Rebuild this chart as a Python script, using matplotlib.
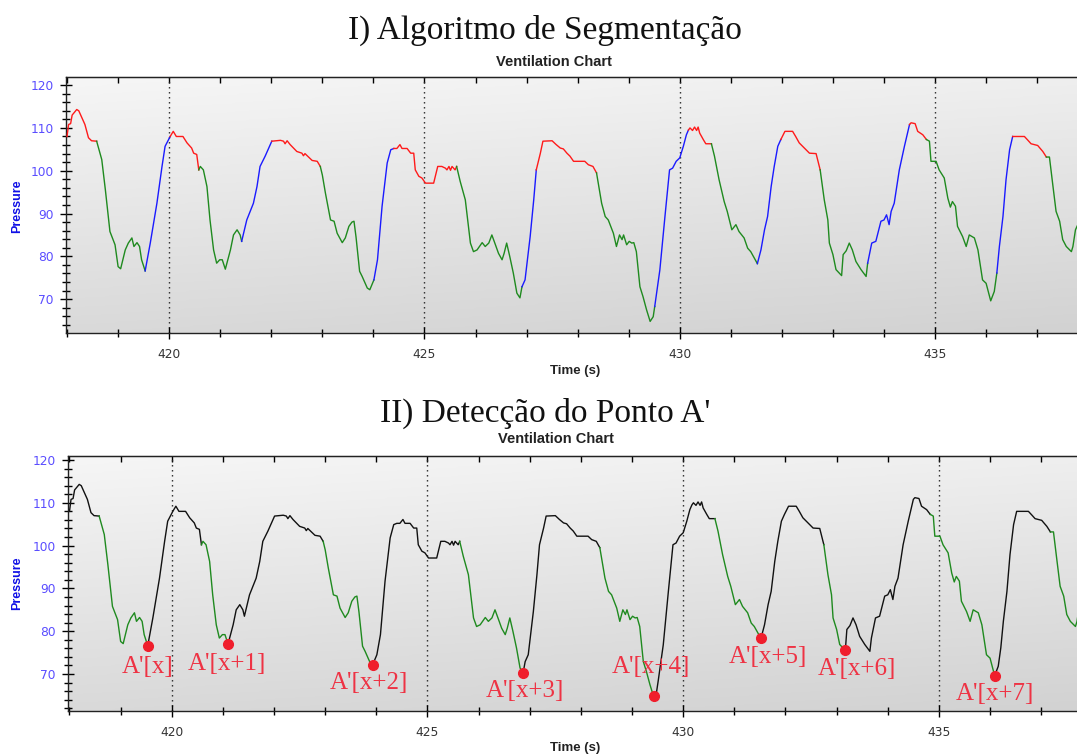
import matplotlib.pyplot as plt
import numpy as np
from matplotlib.colors import LinearSegmentedColormap
from matplotlib.ticker import MultipleLocator

# Pressure trace (time in s)
time = np.array([
    418.00, 418.03, 418.07, 418.10, 418.19, 418.23, 418.35, 418.42, 418.48, 418.58,
    418.68, 418.75, 418.84, 418.94, 419.00, 419.05, 419.14, 419.20, 419.27, 419.31,
    419.37, 419.42, 419.46, 419.53, 419.63, 419.76, 419.86, 419.92, 420.02, 420.08,
    420.14, 420.27, 420.35, 420.44, 420.48, 420.54, 420.58, 420.61, 420.67, 420.74,
    420.80, 420.87, 420.93, 420.99, 421.04, 421.10, 421.20, 421.26, 421.33, 421.39,
    421.42, 421.52, 421.65, 421.72, 421.78, 421.88, 422.01, 422.18, 422.24, 422.27,
    422.31, 422.37, 422.50, 422.60, 422.63, 422.66, 422.73, 422.80, 422.90, 422.96,
    423.00, 423.06, 423.16, 423.23, 423.29, 423.39, 423.45, 423.52, 423.58, 423.62,
    423.66, 423.73, 423.78, 423.88, 423.93, 424.01, 424.08, 424.17, 424.27, 424.34,
    424.40, 424.46, 424.52, 424.56, 424.66, 424.73, 424.79, 424.82, 424.89, 424.95,
    425.02, 425.18, 425.26, 425.34, 425.41, 425.44, 425.48, 425.51, 425.54, 425.60,
    425.63, 425.70, 425.80, 425.90, 425.96, 426.03, 426.13, 426.19, 426.26, 426.32,
    426.39, 426.45, 426.52, 426.56, 426.61, 426.67, 426.74, 426.81, 426.87, 426.91,
    426.97, 427.07, 427.14, 427.19, 427.27, 427.32, 427.50, 427.58, 427.66, 427.72,
    427.79, 427.85, 427.92, 428.14, 428.21, 428.30, 428.37, 428.47, 428.54, 428.60,
    428.70, 428.76, 428.82, 428.87, 428.90, 428.96, 429.01, 429.06, 429.10, 429.15,
    429.22, 429.28, 429.35, 429.42, 429.48, 429.51, 429.61, 429.71, 429.80, 429.86,
    429.93, 430.00, 430.07, 430.13, 430.17, 430.20, 430.25, 430.29, 430.33, 430.36,
    430.39, 430.46, 430.51, 430.62, 430.68, 430.77, 430.87, 430.93, 431.02, 431.10,
    431.16, 431.26, 431.33, 431.39, 431.46, 431.52, 431.59, 431.66, 431.72, 431.79,
    431.85, 431.92, 431.98, 432.06, 432.21, 432.27, 432.34, 432.44, 432.54, 432.67,
    432.75, 432.83, 432.90, 432.93, 433.00, 433.06, 433.17, 433.20, 433.26, 433.32,
    433.38, 433.45, 433.55, 433.65, 433.68, 433.76, 433.84, 433.94, 434.00, 434.05,
    434.10, 434.14, 434.20, 434.30, 434.40, 434.50, 434.53, 434.61, 434.66, 434.76,
    434.83, 434.89, 434.92, 435.02, 435.08, 435.18, 435.25, 435.30, 435.34, 435.40,
    435.44, 435.54, 435.61, 435.67, 435.77, 435.84, 435.93, 436.00, 436.09, 436.16,
    436.21, 436.26, 436.33, 436.39, 436.46, 436.52, 436.75, 436.82, 436.88, 437.01,
    437.11, 437.18, 437.24, 437.31, 437.37, 437.44, 437.50, 437.57, 437.67, 437.70,
    437.75, 437.80,
])
pressure = np.array([
    108.0, 110.8, 111.0, 113.0, 114.3, 114.0, 110.8, 107.7, 107.0, 106.9,
    102.6, 95.6, 85.8, 82.7, 77.6, 77.1, 81.5, 83.1, 84.3, 82.3,
    83.2, 82.3, 79.2, 76.6, 83.1, 92.4, 101.0, 105.7, 108.0, 109.2,
    108.0, 108.0, 106.5, 105.3, 104.1, 103.8, 100.2, 101.0, 100.2, 96.3,
    88.5, 81.5, 78.4, 79.2, 79.2, 77.0, 81.5, 85.0, 86.2, 85.0,
    83.5, 88.5, 92.4, 96.3, 101.0, 103.4, 106.9, 107.1, 106.9, 106.3,
    107.0, 106.1, 104.5, 104.1, 103.5, 104.0, 103.2, 102.4, 102.2, 101.0,
    99.0, 94.8, 88.5, 88.2, 85.4, 83.2, 84.3, 87.0, 88.0, 88.2,
    84.5, 76.5, 75.3, 72.6, 72.2, 74.5, 79.2, 91.7, 101.8, 104.9,
    105.2, 105.2, 106.1, 105.2, 105.2, 104.1, 104.1, 100.2, 98.7, 98.3,
    97.1, 97.1, 101.0, 101.0, 100.6, 100.2, 101.0, 100.1, 101.0, 100.2,
    101.0, 97.5, 93.2, 83.1, 81.1, 81.5, 83.2, 82.3, 83.1, 85.0,
    82.7, 80.7, 79.2, 80.7, 83.1, 80.0, 76.1, 71.4, 70.3, 72.9,
    74.5, 84.6, 93.2, 100.2, 104.1, 106.9, 107.0, 106.1, 105.3, 105.1,
    104.1, 103.4, 102.2, 102.2, 101.4, 101.0, 99.5, 92.4, 89.3, 88.5,
    85.4, 82.3, 85.0, 83.9, 85.0, 82.7, 83.5, 83.1, 83.2, 81.1,
    72.9, 70.6, 67.5, 64.8, 65.9, 68.3, 76.8, 89.3, 100.2, 100.6,
    102.2, 103.0, 105.7, 108.4, 109.5, 110.0, 109.4, 110.2, 109.4, 110.2,
    108.8, 107.3, 106.3, 106.3, 103.4, 97.9, 92.8, 90.5, 86.2, 87.4,
    85.8, 84.3, 81.9, 81.1, 79.6, 78.3, 81.5, 86.2, 89.3, 96.3,
    101.0, 105.7, 107.3, 109.2, 109.2, 108.0, 106.5, 105.3, 104.1, 104.0,
    100.2, 93.2, 88.5, 83.1, 80.4, 76.9, 75.5, 80.4, 81.3, 83.1,
    81.5, 78.8, 76.9, 75.3, 78.4, 83.1, 83.5, 88.2, 88.5, 89.7,
    87.4, 90.5, 92.4, 100.2, 105.7, 110.8, 111.2, 111.0, 109.2, 108.4,
    107.3, 106.9, 102.2, 102.2, 100.2, 98.3, 93.6, 91.5, 92.8, 91.7,
    87.0, 84.6, 82.3, 85.0, 84.3, 81.5, 74.5, 73.7, 69.6, 71.8,
    76.1, 82.3, 89.3, 97.9, 104.9, 108.0, 108.0, 107.1, 106.3, 105.9,
    104.5, 103.2, 103.2, 96.3, 90.5, 88.2, 83.9, 82.3, 81.1, 82.3,
    86.2, 87.5,
])

# Chart I: start time of each coloured stretch
seg_start = [418.00, 418.58, 419.53, 420.02, 420.58, 421.42, 422.01, 422.96, 424.01,
             424.40, 425.63, 426.91, 427.19, 428.37, 429.51, 430.17, 430.62, 431.52,
             431.98, 432.75, 433.68, 434.50, 434.83, 436.21, 436.52, 437.18]
seg_color = ['red'] + ['green', 'blue', 'red'] * 8 + ['green']

# Chart II: green stretches start where chart I turns green and stop at A'
green_start = [418.58, 420.58, 422.96, 425.63, 428.37, 430.62, 432.75, 434.83, 437.18]
apoint_time = [419.53, 421.10, 423.93, 426.87, 429.42, 431.52, 433.17, 436.09]
apoint_label = ["A'[x]", "A'[x+1]", "A'[x+2]", "A'[x+3]",
                "A'[x+4]", "A'[x+5]", "A'[x+6]", "A'[x+7]"]
label_offset = [(0, -15), (-1, -14.5), (-3, -13), (1.5, -13),
                (-2, 21), (5, -13), (8.5, -13.5), (0, -13)]

col = {'red': '#ff1a1a', 'green': '#1f8a1f', 'blue': '#1a1aff', 'black': '#111111'}


def draw_stretches(ax, starts, colors):
    ends = starts[1:] + [time[-1]]
    for t0, t1, c in zip(starts, ends, colors):
        m = (time >= t0 - 1e-6) & (time <= t1 + 1e-6)
        ax.plot(time[m], pressure[m], color=col[c], lw=1.0, zorder=3)


def style_axes(ax, xlim, ylim):
    grad_cmap = LinearSegmentedColormap.from_list('bg', ['#f6f6f6', '#d2d2d2'])
    yy, xx = np.mgrid[0:1:200j, 0:1:200j]
    ax.imshow(0.8 * yy + 0.2 * xx, extent=[0, 1, 0, 1], transform=ax.transAxes,
              cmap=grad_cmap, aspect='auto', zorder=0, origin='upper')
    ax.set_xlim(xlim)
    ax.set_ylim(ylim)
    ax.xaxis.set_major_locator(MultipleLocator(5))
    ax.xaxis.set_minor_locator(MultipleLocator(1))
    ax.yaxis.set_minor_locator(MultipleLocator(2))
    ax.set_yticks([70, 80, 90, 100, 110, 120])
    ax.tick_params(which='major', direction='inout', length=8, width=1, pad=5)
    ax.tick_params(which='minor', direction='inout', length=5.5, width=1)
    ax.tick_params(axis='x', labelsize=8.8, labelcolor='#333333', pad=6.5)
    ax.tick_params(axis='y', labelsize=8.8, labelcolor='#5a4dff')
    for lab in ax.get_xticklabels() + ax.get_yticklabels():
        lab.set_family('DejaVu Sans')
    for s in ['left', 'bottom', 'top']:
        ax.spines[s].set_color('#222222')
        ax.spines[s].set_linewidth(1.0)
    ax.spines['right'].set_visible(False)
    top = ax.secondary_xaxis('top')
    top.xaxis.set_major_locator(MultipleLocator(1))
    top.tick_params(direction='in', length=4, width=1, labeltop=False)
    top.spines['top'].set_color('#222222')
    for v in [420, 425, 430, 435]:
        ax.axvline(v, color='#222222', lw=1.0, ls=(0, (1, 2.6)), zorder=1)


fig = plt.figure(figsize=(10.77, 7.54), dpi=100)
ax1 = fig.add_axes([0.0613, 0.5584, 0.9387, 0.3395])
ax2 = fig.add_axes([0.0631, 0.0570, 0.9369, 0.3386])

style_axes(ax1, (417.98, 437.78), (62.1, 121.9))
style_axes(ax2, (417.97, 437.70), (61.35, 121.0))

# Chart I: segmentation colours
draw_stretches(ax1, seg_start, seg_color)

# Chart II: green stretches ending at A', black elsewhere
starts2 = [418.00]
colors2 = ['black']
for i, g in enumerate(green_start):
    starts2.append(g)
    colors2.append('green')
    if i < len(apoint_time):
        starts2.append(apoint_time[i])
        colors2.append('black')
draw_stretches(ax2, starts2, colors2)

for t, name, off in zip(apoint_time, apoint_label, label_offset):
    p = pressure[np.argmin(np.abs(time - t))]
    ax2.plot(t, p, 'o', color='#f01e2c', ms=7, zorder=5)
    ax2.annotate(name, (t, p), xytext=off, textcoords='offset points',
                 ha='center', va='center', color='#ee3344', fontsize=18,
                 family='Liberation Serif', zorder=6)

# titles and labels
fig.text(0.506, 0.948, 'I) Algoritmo de Segmentação', ha='center', va='baseline',
         fontsize=24, family='Liberation Serif', color='#111111')
fig.text(0.514, 0.913, 'Ventilation Chart', ha='center', va='baseline',
         fontsize=10.5, family='Liberation Sans', weight='bold', color='#222222')
fig.text(0.506, 0.4407, "II) Detecção do Ponto A'", ha='center', va='baseline',
         fontsize=24, family='Liberation Serif', color='#111111')
fig.text(0.516, 0.412, 'Ventilation Chart', ha='center', va='baseline',
         fontsize=10.5, family='Liberation Sans', weight='bold', color='#222222')

for y in [0.504, 0.004]:
    fig.text(0.534, y, 'Time (s)', ha='center', va='baseline', fontsize=9.5,
             family='Liberation Sans', weight='bold', color='#222222')
for y in [0.727, 0.227]:
    fig.text(0.0158, y, 'Pressure', ha='center', va='center', rotation=90,
             fontsize=9, family='Liberation Sans', weight='bold', color='#1010e6')

plt.savefig('out.png', dpi=100)
plt.close()
